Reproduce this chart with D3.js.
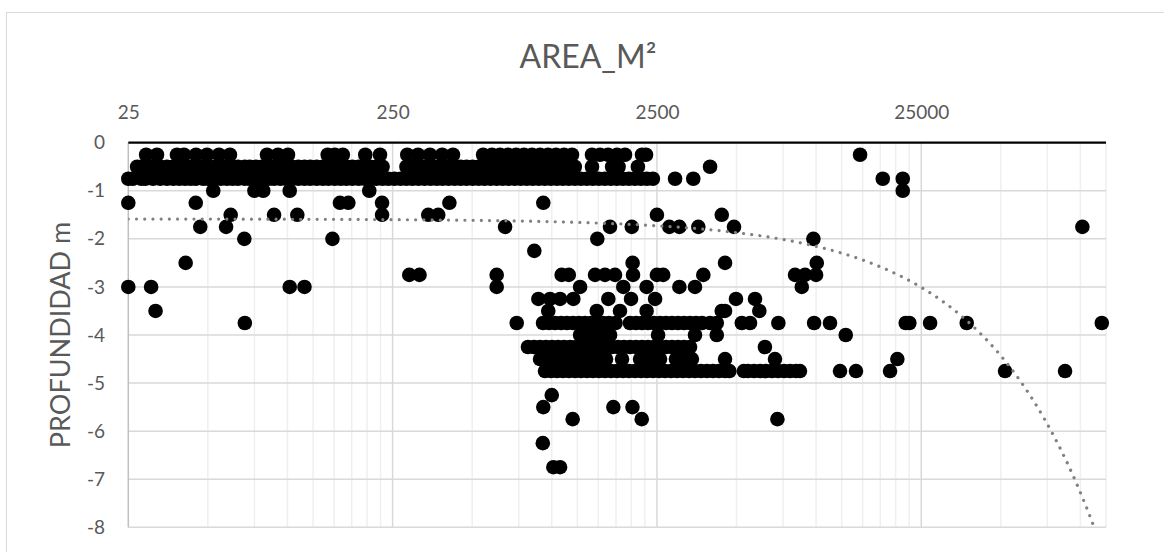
<!DOCTYPE html>
<html><head><meta charset="utf-8">
<script src="https://cdn.jsdelivr.net/npm/d3@7"></script>
<style>
body{margin:0;background:#fff;}
svg text{font-family:Lato,"Open Sans",sans-serif;fill:#595959;}
</style>
</head><body>
<svg id="chart" width="1164" height="552"></svg>
<script>
// ---------- DATA ----------
const titleText = "AREA_M²";
const yTitleText = "PROFUNDIDAD m";
const xTickValues = [25, 250, 2500, 25000];
const yTickValues = [0, -1, -2, -3, -4, -5, -6, -7, -8];
const xDomain = [25, 125000];
const yDomain = [0, -8];

// depth levels (m) and the areas (m²) of the points at each level
const depths = [-0.25, -0.5, -0.75, -1, -1.25, -1.5, -1.75, -2, -2.25, -2.5, -2.75, -3, -3.25, -3.5, -3.75, -4, -4.25, -4.5, -4.75, -5.25, -5.5, -5.75, -6.25, -6.75];
const areas = [
  [29.2, 32.1, 38.2, 40.6, 45.1, 49.6, 55.1, 60.6, 83.7, 92.1, 100.5, 142, 151, 162, 197, 224, 284, 312, 346, 385, 423, 550, 594, 637, 683, 733, 785, 842, 903, 968, 1038, 1113, 1193, 1420, 1523, 1633, 1766, 1893, 2195, 2273, 14670],
  [27, 28, 29, 31, 33, 35, 37, 39, 41, 43, 45, 48, 50, 53, 56, 59, 62, 65, 69, 72, 76, 80, 85, 89, 94, 99, 104, 110, 116, 122, 129, 136, 143, 151, 159, 167, 176, 186, 196, 206, 217, 229, 282, 297, 313, 330, 348, 367, 386, 407, 429, 452, 476, 502, 529, 557, 587, 619, 652, 687, 724, 763, 804, 847, 893, 941, 991, 1045, 1101, 1160, 1222, 1420, 1692, 1790, 2118, 3971],
  [25, 26, 28, 29, 31, 33, 35, 37, 39, 41, 43, 45, 48, 50, 53, 56, 59, 62, 65, 69, 72, 76, 80, 85, 89, 94, 99, 104, 110, 116, 122, 129, 136, 143, 151, 159, 167, 176, 186, 196, 206, 217, 229, 241, 254, 268, 282, 297, 313, 330, 348, 367, 386, 407, 429, 452, 476, 502, 529, 557, 587, 619, 652, 687, 724, 763, 804, 847, 893, 941, 991, 1045, 1101, 1160, 1222, 1288, 1357, 1430, 1507, 1588, 1673, 1763, 1858, 1958, 2063, 2174, 2290, 2413, 2928, 3431, 17880, 21280],
  [52.4, 75, 81, 102, 204, 21280],
  [25, 45, 158, 170, 228, 410, 929],
  [61, 89, 109, 228, 341, 372, 2500, 4397],
  [46.8, 58.6, 666, 1661, 2008, 2785, 3040, 3585, 4893, 101750],
  [68.7, 148, 1487, 9770],
  [859],
  [41.2, 2023, 4525, 10060],
  [289, 316, 619, 1090, 1160, 1458, 1590, 1735, 2030, 2500, 2640, 3745, 8325, 9085, 10000],
  [25, 30.5, 102, 116, 619, 1280, 1865, 2285, 3040, 3483, 8830],
  [890, 985, 1075, 1207, 1637, 1995, 2460, 4977, 5875],
  [31.7, 970, 1480, 1812, 2285, 4397, 4525, 6100],
  [69, 737, 927, 977, 1029, 1084, 1142, 1203, 1268, 1336, 1407, 1483, 1562, 1646, 1743, 1977, 2084, 2195, 2313, 2437, 2568, 2706, 2851, 3004, 3165, 3335, 3514, 3703, 3971, 4210, 5235, 5625, 7200, 9830, 11290, 21840, 22540, 27000, 37150, 120500],
  [1280, 1396, 1523, 1662, 2525, 3483, 4210, 12950],
  [813, 857, 903, 951, 1002, 1056, 1113, 1173, 1236, 1302, 1372, 1445, 1523, 1605, 1691, 1782, 1877, 1977, 2084, 2195, 2313, 2437, 2568, 2706, 2851, 3004, 3165, 3335, 6405],
  [903, 951, 1002, 1056, 1113, 1173, 1236, 1302, 1372, 1445, 1523, 1605, 1845, 2158, 2273, 2395, 2525, 2568, 2950, 3060, 3220, 3390, 4525, 6990, 20300],
  [943, 994, 1047, 1103, 1162, 1225, 1290, 1360, 1433, 1510, 1590, 1676, 1766, 1861, 1960, 2066, 2177, 2293, 2416, 2547, 2683, 2827, 2978, 3138, 3306, 3483, 3670, 3867, 4075, 4294, 4525, 4700, 5330, 5528, 5825, 6138, 6466, 6813, 7178, 7568, 7972, 8400, 8690, 12320, 14160, 19050, 51870, 87500],
  [1000],
  [929, 1710, 2020],
  [1200, 2190, 7140],
  [925],
  [1014, 1075]
];

// linear trendline: depth = slope * area + intercept
const trendSlope = -5.69e-5;
const trendIntercept = -1.586;

// ---------- CHART ----------
const svg = d3.select("#chart");
const L = 128.3, R = 1106, T = 142.7, B = 527.3;

const x = d3.scaleLog().base(10).domain(xDomain).range([L, R]);
const y = d3.scaleLinear().domain(yDomain).range([T, B]);

// chart border
svg.append("rect").attr("x", 6.5).attr("y", 12.5).attr("width", 1200).attr("height", 700)
  .attr("fill", "#fff").attr("stroke", "#d9d9d9").attr("stroke-width", 1);

// minor vertical gridlines (multiples of each major step)
const minorX = [];
xTickValues.forEach(m => { for (let k = 2; k <= 9; k++) { if (m * k <= xDomain[1]) minorX.push(m * k); } });
svg.append("g").selectAll("line").data(minorX).join("line")
  .attr("x1", d => x(d)).attr("x2", d => x(d)).attr("y1", T).attr("y2", B)
  .attr("stroke", "#efefef").attr("stroke-width", 1.5);

// major vertical gridlines
svg.append("g").selectAll("line").data(xTickValues.slice(1)).join("line")
  .attr("x1", d => x(d)).attr("x2", d => x(d)).attr("y1", T).attr("y2", B)
  .attr("stroke", "#d9d9d9").attr("stroke-width", 1.5);

// horizontal gridlines
svg.append("g").selectAll("line").data(yTickValues.slice(1)).join("line")
  .attr("x1", L).attr("x2", R).attr("y1", d => y(d)).attr("y2", d => y(d))
  .attr("stroke", "#d9d9d9").attr("stroke-width", 1.5);

// vertical axis line
svg.append("line").attr("x1", L).attr("x2", L).attr("y1", T).attr("y2", B)
  .attr("stroke", "#bfbfbf").attr("stroke-width", 1.5);

// points
const points = [];
depths.forEach((dp, i) => areas[i].forEach(a => points.push({a: a, d: dp})));
svg.append("g").selectAll("circle").data(points).join("circle")
  .attr("cx", p => x(p.a)).attr("cy", p => y(p.d)).attr("r", 7.3).attr("fill", "#000");

// trendline
svg.append("clipPath").attr("id", "plotclip").append("rect")
  .attr("x", L).attr("y", T).attr("width", R - L).attr("height", B - T);
const trendX = d3.range(0, 601).map(i => xDomain[0] * Math.pow(xDomain[1] / xDomain[0], i / 600));
const trendLine = d3.line().x(a => x(a)).y(a => y(trendSlope * a + trendIntercept));
svg.append("path").datum(trendX).attr("d", trendLine)
  .attr("clip-path", "url(#plotclip)")
  .attr("fill", "none").attr("stroke", "#808080").attr("stroke-width", 3.2)
  .attr("stroke-linecap", "round").attr("stroke-dasharray", "0.01 8.2");

// top (horizontal) axis
const xAxis = d3.axisTop(x).tickValues(xTickValues).tickSize(0).tickPadding(23.7).tickFormat(d3.format("d"));
const gx = svg.append("g").attr("transform", `translate(0,${T})`).call(xAxis);
gx.select(".domain").remove();
gx.selectAll("text").style("font-size", "19px").attr("fill", "#595959");

svg.append("line").attr("x1", L).attr("x2", R).attr("y1", T).attr("y2", T)
  .attr("stroke", "#000").attr("stroke-width", 2.2);

// left axis labels
const yAxis = d3.axisLeft(y).tickValues(yTickValues).tickSize(0).tickPadding(23.3).tickFormat(d => d3.format("d")(d).replace("−", "-"));
const gy = svg.append("g").attr("transform", `translate(${L},0)`).call(yAxis);
gy.select(".domain").remove();
gy.selectAll("text").style("font-size", "19px").attr("fill", "#595959");

// titles
svg.append("text").attr("x", 588).attr("y", 67.7).attr("text-anchor", "middle")
  .style("font-size", "32px").text(titleText);
svg.append("text").attr("transform", `translate(70,${(T + B) / 2}) rotate(-90)`)
  .attr("text-anchor", "middle").style("font-size", "27px").text(yTitleText);
</script>
</body></html>
